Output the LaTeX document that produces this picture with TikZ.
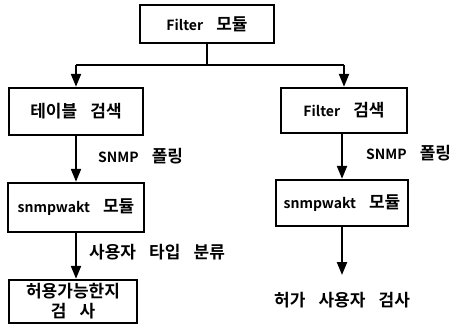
\documentclass[tikz,border=0pt]{standalone}
\usepackage{fontspec}
\setmainfont{Noto Sans CJK KR}[BoldFont={* Bold},WordSpace=3.4]
\usetikzlibrary{arrows.meta}
\newcommand\latw[1]{{\fontsize{14}{19}\selectfont #1}}
\begin{document}
\begin{tikzpicture}[x=1pt,y=-1pt,
  box/.style={draw,line width=2.4pt,rectangle,inner sep=0pt,font=\bfseries\fontsize{17}{20}\selectfont,align=center},
  lbl/.style={anchor=west,inner sep=0pt,font=\bfseries\fontsize{17}{20}\selectfont},
  conn/.style={line width=2.2pt},
  arr/.style={conn,-{Triangle[width=10pt,length=13pt]}}]
\useasboundingbox (0,0) rectangle (455,324);
\node[box,minimum width=134pt,minimum height=38pt] (top) at (207,24) {\latw{Filter} 모듈};
\node[box,minimum width=134pt,minimum height=47pt] (L1) at (76,111.5) {테이블 검색};
\node[box,minimum width=136pt,minimum height=49pt] (L2) at (76,207.5) {\latw{snmpwakt} 모듈};
\node[box,minimum width=128pt,minimum height=43pt] (L3) at (73,301.5) {허용가능한지\\검 사};
\node[box,minimum width=126pt,minimum height=45pt] (R1) at (344,110.5) {\latw{Filter} 검색};
\node[box,minimum width=132pt,minimum height=46pt] (R2) at (342,203) {\latw{snmpwakt} 모듈};
\coordinate (split) at (207,65);
\coordinate (rend) at (342,275);
\node[lbl] (s1) at (98,156) {\latw{SNMP} 폴링};
\node[lbl] (s2) at (366,153) {\latw{SNMP} 폴링};
\node[lbl] (s3) at (89,252) {사용자 타입 분류};
\node[lbl] (s4) at (274,300) {허가 사용자 검사};
\draw[conn] (top.south) -- (split);
\draw[conn] (L1.north |- split) -- (R1.north |- split);
\draw[arr] (L1.north |- split) -- (L1.north);
\draw[arr] (R1.north |- split) -- (R1.north);
\draw[arr] (L1.south) -- (L1.south |- L2.north);
\draw[arr] (L2.south) -- (L2.south |- L3.north);
\draw[arr] (R2.north |- R1.south) -- (R2.north);
\draw[arr] (R2.south) -- (rend);
\end{tikzpicture}
\end{document}
